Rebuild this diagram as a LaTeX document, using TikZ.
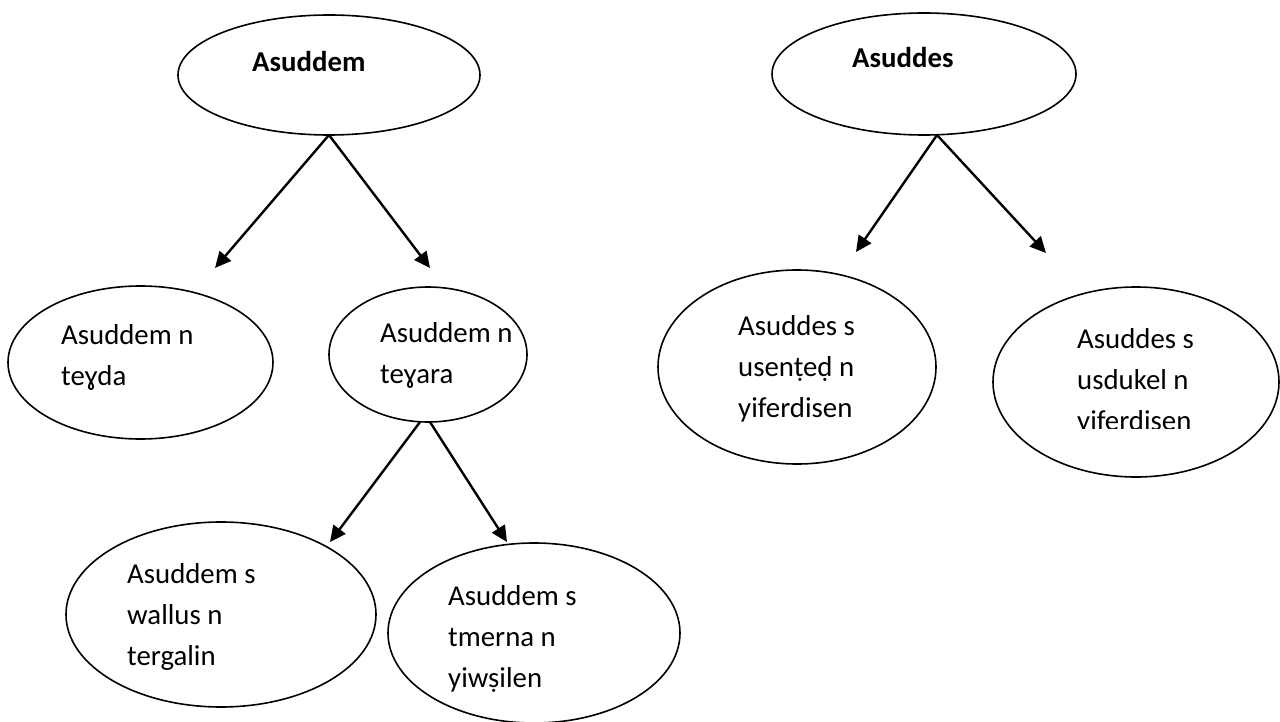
\documentclass[tikz,border=0pt]{standalone}
\usepackage{fontspec}
\setmainfont{Carlito}
\usetikzlibrary{arrows.meta,shapes.geometric}
\begin{document}
\begin{tikzpicture}[x=1pt,y=-1pt,
  ell/.style={draw, ellipse, line width=1.6pt, inner sep=0pt, outer sep=0pt},
  txt/.style={anchor=west, align=left, inner sep=0pt, font=\fontsize{28.8}{41}\selectfont},
  ttl/.style={anchor=west, inner sep=0pt, font=\fontsize{28.8}{41}\selectfont\bfseries},
  arr/.style={line width=2.4pt, -{Triangle[length=16pt,width=15pt]}}]
\useasboundingbox[fill=white] (0,0) rectangle (1280,722);

% ellipses
\node[ell, minimum width=302, minimum height=120] (A) at (329,75) {};
\node[ell, minimum width=304, minimum height=122] (B) at (924,74) {};
\node[ell, minimum width=265, minimum height=153] (C) at (140.5,362.5) {};
\node[ell, minimum width=198, minimum height=135] (D) at (428,354.5) {};
\node[ell, minimum width=310, minimum height=185] (E) at (221,614.5) {};
\node[ell, minimum width=292, minimum height=180] (F) at (534,633) {};
\node[ell, minimum width=278, minimum height=194] (G) at (797,367) {};
\node[ell, minimum width=286, minimum height=190] (H) at (1136,382) {};

% texts
\node[ttl] (At) at (252,62) {Asuddem};
\node[ttl] (Bt) at (852,58) {Asuddes};
\node[txt] (Ct) at (61,357.5) {Asuddem n\\teɣda};
\node[txt] (Dt) at (380,355) {Asuddem n\\teɣara};
\node[txt] (Et) at (127,617) {Asuddem s\\wallus n\\tergalin};
\node[txt] (Ft) at (448,639) {Asuddem s\\tmerna n\\yiwṣilen};
\node[txt] (Gt) at (738,369) {Asuddes s\\usenṭeḍ n\\yiferdisen};
\begin{scope}
  \clip (990,280) rectangle (1280,428);
  \node[txt] (Ht) at (1077,382) {Asuddes s\\usdukel n\\yiferdisen};
\end{scope}

% arrow end points
\coordinate (a1) at (215,268);
\coordinate (a2) at (430,268);
\coordinate (b0) at ([xshift=13pt]B.south);
\coordinate (b1) at (856,252);
\coordinate (b2) at (1046,253);
\coordinate (d0l) at ([xshift=-8pt]D.south);
\coordinate (d0r) at ([xshift=2pt]D.south);
\coordinate (d1) at (330,542);
\coordinate (d2) at (507,542);

% connectors
\draw[arr] (A.south) -- (a1);
\draw[arr] (A.south) -- (a2);
\draw[arr] (b0) -- (b1);
\draw[arr] (b0) -- (b2);
\draw[arr] (d0l) -- (d1);
\draw[arr] (d0r) -- (d2);
\end{tikzpicture}
\end{document}
